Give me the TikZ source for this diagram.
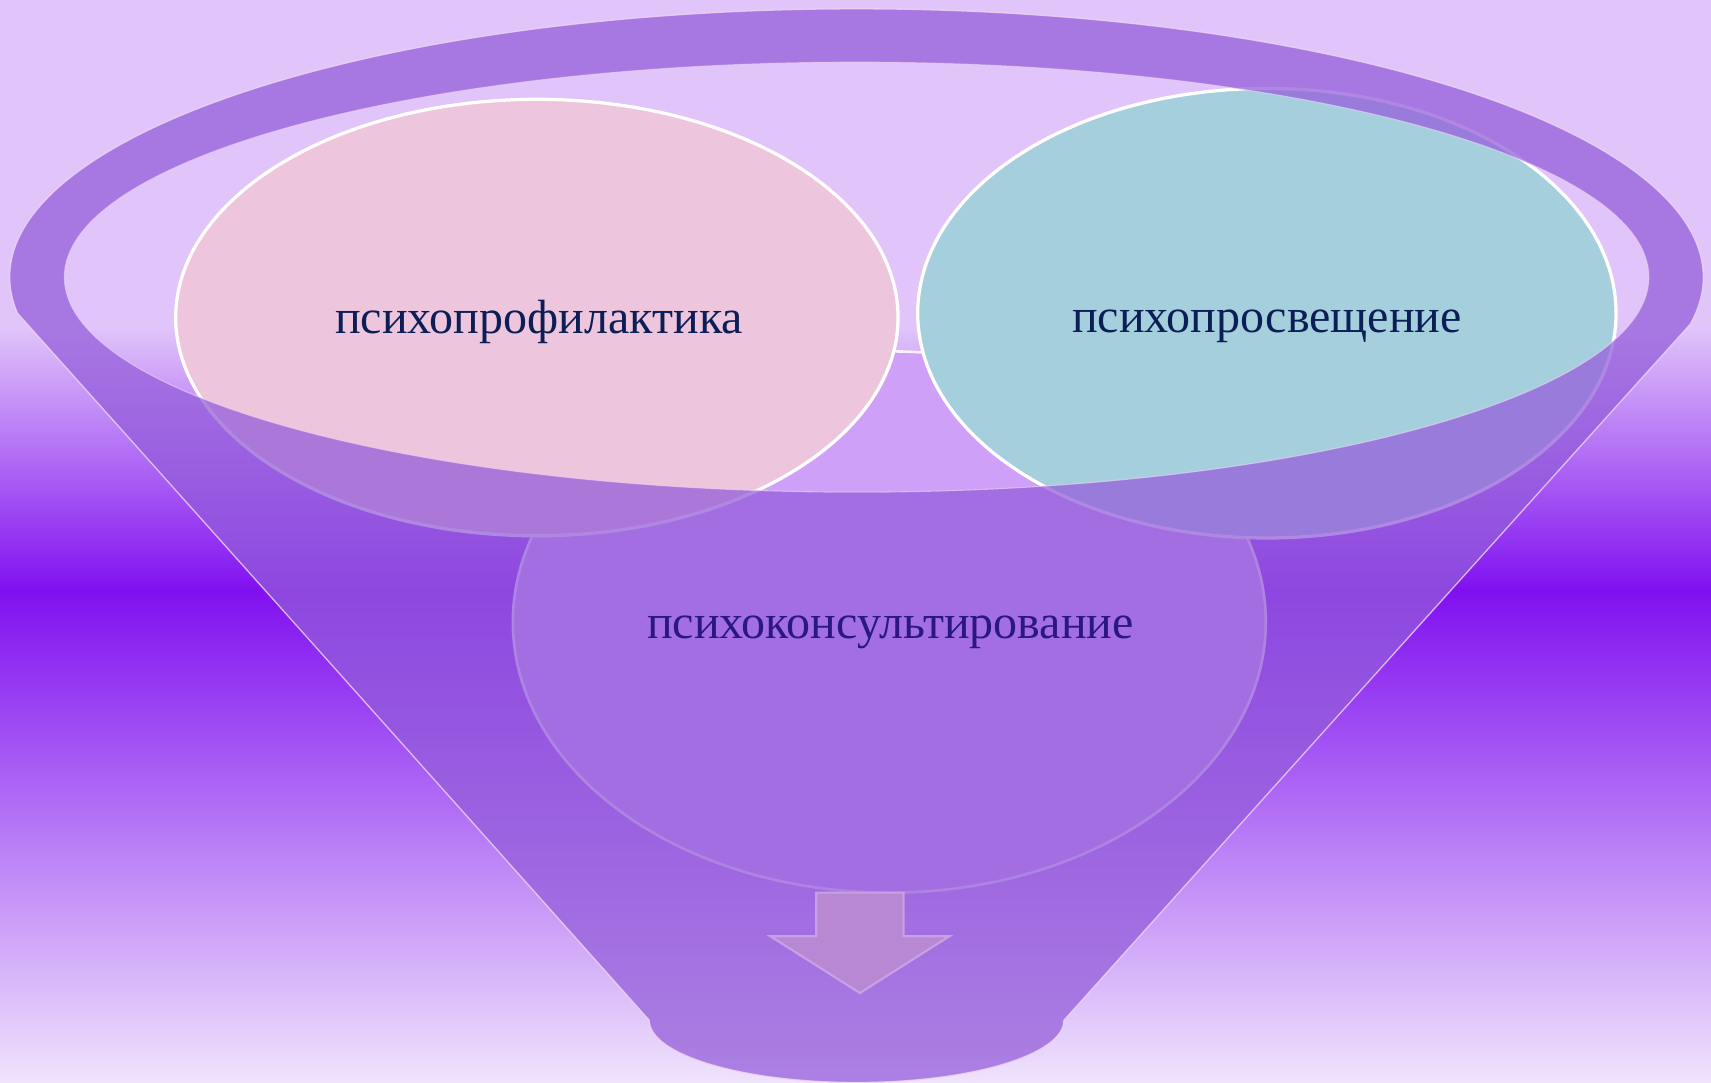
\documentclass[tikz,border=0pt]{standalone}
\usepackage{fontspec}
\setmainfont{Liberation Serif}
\usetikzlibrary{shapes.geometric}
\definecolor{bgtop}{RGB}{224,196,250}
\definecolor{bgmid}{RGB}{128,16,240}
\definecolor{bgbot}{RGB}{240,228,252}
\definecolor{funnelc}{RGB}{147,92,218}
\definecolor{pinkc}{RGB}{237,197,220}
\definecolor{bluec}{RGB}{166,207,222}
\definecolor{violc}{RGB}{207,160,248}
\definecolor{navyc}{RGB}{12,30,86}
\definecolor{indigoc}{RGB}{42,24,128}
\definecolor{arrowc}{RGB}{184,136,212}
\definecolor{arrowedge}{RGB}{200,160,228}
\definecolor{rimline}{RGB}{240,214,244}
\tikzset{
  bubble/.style={ellipse, draw=white, line width=1.5pt, inner sep=0pt},
  label/.style={font=\fontsize{22}{26}\selectfont, inner sep=0pt, anchor=base},
}
\begin{document}
\begin{tikzpicture}[x=0.5pt,y=-0.5pt]
\useasboundingbox (0,0) rectangle (1568,992);
% background
\fill[bgtop] (0,0) rectangle (1568,302);
\fill[top color=bgtop,bottom color=bgmid] (0,300) rectangle (1568,542);
\fill[top color=bgmid,bottom color=bgbot] (0,540) rectangle (1568,992);
% circles
\node[bubble, fill=violc, draw=white!85!violc, line width=1.2pt, minimum width=345pt, minimum height=248pt] (c3) at (815,570) {};
\node[bubble, fill=pinkc, minimum width=331pt, minimum height=200pt] (c1) at (492,291) {};
\node[bubble, fill=bluec, minimum width=320pt, minimum height=206pt] (c2) at (1161,287) {};
% funnel
\fill[funnelc, fill opacity=0.73, even odd rule]
  (16,287) arc[start angle=172.3, end angle=370.1, x radius=776, y radius=246]
  -- (975,935) arc[start angle=0, end angle=180, x radius=190, y radius=57]
  -- cycle
  (785,254) ellipse [x radius=726, y radius=197];
\draw[rimline, line width=0.6pt, draw opacity=0.8]
  (16,287) arc[start angle=172.3, end angle=370.1, x radius=776, y radius=246]
  -- (975,935) arc[start angle=0, end angle=180, x radius=190, y radius=57]
  -- cycle;
\draw[rimline, line width=0.5pt, draw opacity=0.6] (785,254) ellipse [x radius=726, y radius=197];
% arrow
\fill[arrowc, draw=arrowedge, line width=1pt, line join=miter]
  (748,818) -- (828,818) -- (828,858) -- (870,858) -- (788,910) -- (706,858) -- (748,858) -- cycle;
% texts
\node[label, text=navyc] (t1) at (494,306) {психопрофилактика};
\node[label, text=navyc] (t2) at (1161,305) {психопросвещение};
\node[label, text=indigoc] (t3) at (816,585) {психоконсультирование};
\end{tikzpicture}
\end{document}
